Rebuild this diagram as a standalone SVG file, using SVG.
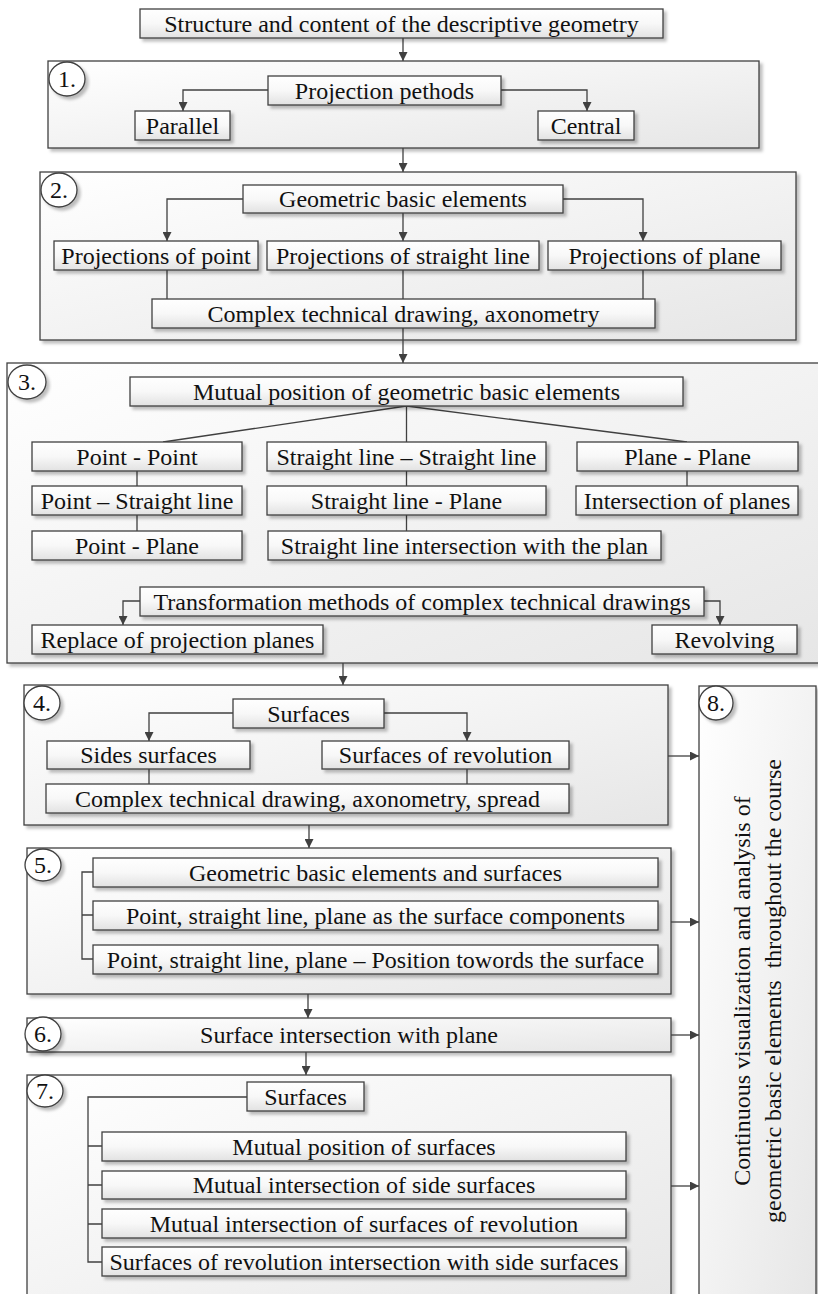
<svg xmlns="http://www.w3.org/2000/svg" width="818" height="1294" viewBox="0 0 818 1294" font-family="Liberation Serif, Times New Roman, serif">
<defs>
<style>
.c{fill:url(#gc);stroke:#404040;stroke-width:1.3;filter:url(#sh)}
.b{fill:url(#gb);stroke:#404040;stroke-width:1.3;filter:url(#sh)}
.n{fill:#fff;stroke:#404040;stroke-width:1.3;filter:url(#sh)}
.t{font-family:'Liberation Serif',serif;font-size:24px;fill:#111;text-anchor:middle}
.l{fill:none;stroke:#404040;stroke-width:1.3}
.a{marker-end:url(#ar)}
</style>
<linearGradient id="gc" x1="0" y1="0" x2="1" y2="1"><stop offset="0" stop-color="#ffffff"/><stop offset="1" stop-color="#e6e6e6"/></linearGradient>
<linearGradient id="gb" x1="0" y1="0" x2="0" y2="1"><stop offset="0" stop-color="#ffffff"/><stop offset="0.5" stop-color="#f8f8f8"/><stop offset="1" stop-color="#e2e2e2"/></linearGradient>
<filter id="sh" x="-10%" y="-10%" width="125%" height="140%"><feDropShadow dx="3" dy="3" stdDeviation="1.5" flood-color="#000" flood-opacity="0.25"/></filter>
<marker id="ar" viewBox="0 0 10 10" refX="10" refY="5" markerWidth="9" markerHeight="9" markerUnits="userSpaceOnUse" orient="auto"><path d="M0,0 L10,5 L0,10 z" fill="#404040"/></marker>
</defs>
<rect width="818" height="1294" fill="#fff"/>

<g id="containers">
<g id="c1"><rect class="c" x="48" y="61" width="711" height="87"/><ellipse class="n" cx="67" cy="79" rx="18" ry="17"/><text class="t" x="67" y="87">1.</text></g>
<g id="c2"><rect class="c" x="40" y="172" width="756" height="168"/><ellipse class="n" cx="59" cy="190" rx="18" ry="17"/><text class="t" x="59" y="198">2.</text></g>
<g id="c3"><rect class="c" x="7" y="363" width="815" height="300"/><ellipse class="n" cx="27" cy="382" rx="19" ry="17"/><text class="t" x="27" y="390">3.</text></g>
<g id="c4"><rect class="c" x="24" y="685" width="644" height="140"/><ellipse class="n" cx="42" cy="703" rx="18" ry="17"/><text class="t" x="42" y="711">4.</text></g>
<g id="c5"><rect class="c" x="27" y="848" width="644" height="146"/><ellipse class="n" cx="43" cy="865" rx="18" ry="16"/><text class="t" x="43" y="873">5.</text></g>
<g id="c6"><rect class="c" x="27" y="1018" width="644" height="34"/><ellipse class="n" cx="43" cy="1034" rx="18" ry="17"/><text class="t" x="43" y="1042">6.</text><text class="t" x="349" y="1043">Surface intersection with plane</text></g>
<g id="c7"><rect class="c" x="27" y="1075" width="644" height="240"/><ellipse class="n" cx="45" cy="1091" rx="18" ry="16"/><text class="t" x="45" y="1099">7.</text></g>
<g id="c8"><rect class="c" x="699" y="686" width="117" height="620"/><ellipse class="n" cx="716" cy="703" rx="17" ry="17"/><text class="t" x="716" y="711">8.</text>
<text class="t" transform="translate(750,991) rotate(-90)">Continuous visualization and analysis of</text>
<text class="t" xml:space="preserve" transform="translate(781,991) rotate(-90)">geometric basic elements  throughout the course</text></g>
</g>

<g id="connectors">
<path class="l a" d="M403,38 V61"/>
<path class="l a" d="M268,90 H183 V111"/>
<path class="l a" d="M501,90 H587 V111"/>
<path class="l a" d="M403,148 V172"/>
<path class="l a" d="M243,199 H167 V241"/>
<path class="l a" d="M403,213 V241"/>
<path class="l a" d="M563,199 H643 V241"/>
<path class="l" d="M167,270 V299 M403,270 V299 M643,270 V299"/>
<path class="l a" d="M403,328 V363"/>
<path class="l" d="M406.5,406 L163,442 M406.5,406 V442 M406.5,406 L687,442"/>
<path class="l" d="M137,471 V486 M137,515 V531 M406.5,471 V486 M406.5,515 V531 M687,471 V486"/>
<path class="l a" d="M140,601 H123 V625"/>
<path class="l a" d="M704,601 H720 V625"/>
<path class="l a" d="M343,663 V685"/>
<path class="l a" d="M233,713 H149 V741"/>
<path class="l a" d="M384,713 H467 V741"/>
<path class="l" d="M149,769 V784 M467,769 V784"/>
<path class="l a" d="M668,756 H699"/>
<path class="l a" d="M309,825 V848"/>
<path class="l" d="M93,872 H82 V959 H93 M82,915 H93"/>
<path class="l a" d="M671,922 H699"/>
<path class="l a" d="M308,994 V1018"/>
<path class="l a" d="M671,1035 H699"/>
<path class="l a" d="M306,1052 V1075"/>
<path class="l" d="M247,1097 H88 V1262 H102 M88,1146 H102 M88,1185 H102 M88,1224 H102"/>
<path class="l a" d="M671,1186 H699"/>
</g>

<g id="nodes">
<g id="top"><rect class="b" x="140" y="9" width="523" height="29"/><text class="t" x="401.5" y="31.5">Structure and content of the descriptive geometry</text></g>
<g id="pm"><rect class="b" x="268" y="76" width="233" height="29"/><text class="t" x="384.5" y="98.5">Projection pethods</text></g>
<g id="par"><rect class="b" x="135" y="111" width="95" height="29"/><text class="t" x="182.5" y="133.5">Parallel</text></g>
<g id="cen"><rect class="b" x="538" y="111" width="96" height="29"/><text class="t" x="586" y="133.5">Central</text></g>

<g id="gbe"><rect class="b" x="243" y="185" width="320" height="28"/><text class="t" x="403" y="207">Geometric basic elements</text></g>
<g id="pop"><rect class="b" x="54" y="241" width="204" height="29"/><text class="t" x="156" y="263.5">Projections of point</text></g>
<g id="posl"><rect class="b" x="267" y="241" width="272" height="29"/><text class="t" x="403" y="263.5">Projections of straight line</text></g>
<g id="popl"><rect class="b" x="548" y="241" width="233" height="29"/><text class="t" x="664.5" y="263.5">Projections of plane</text></g>
<g id="ctd"><rect class="b" x="152" y="299" width="503" height="29"/><text class="t" x="403.5" y="321.5">Complex technical drawing, axonometry</text></g>

<g id="mp"><rect class="b" x="130" y="377" width="553" height="29"/><text class="t" x="406.5" y="399.5">Mutual position of geometric basic elements</text></g>
<g id="pp"><rect class="b" x="32" y="442" width="210" height="29"/><text class="t" x="137" y="464.5">Point - Point</text></g>
<g id="psl"><rect class="b" x="32" y="486" width="210" height="29"/><text class="t" x="137" y="508.5">Point – Straight line</text></g>
<g id="ppl"><rect class="b" x="32" y="531" width="210" height="29"/><text class="t" x="137" y="553.5">Point - Plane</text></g>
<g id="slsl"><rect class="b" x="267" y="442" width="279" height="29"/><text class="t" x="406.5" y="464.5">Straight line – Straight line</text></g>
<g id="slp"><rect class="b" x="267" y="486" width="279" height="29"/><text class="t" x="406.5" y="508.5">Straight line - Plane</text></g>
<g id="sli"><rect class="b" x="268" y="531" width="393" height="29"/><text class="t" x="464.5" y="553.5">Straight line intersection with the plan</text></g>
<g id="plpl"><rect class="b" x="577" y="442" width="221" height="29"/><text class="t" x="687.5" y="464.5">Plane - Plane</text></g>
<g id="iop"><rect class="b" x="576" y="486" width="222" height="29"/><text class="t" x="687" y="508.5">Intersection of planes</text></g>
<g id="tm"><rect class="b" x="140" y="587" width="564" height="29"/><text class="t" x="422" y="609.5">Transformation methods of complex technical drawings</text></g>
<g id="rpp"><rect class="b" x="32" y="625" width="291" height="29"/><text class="t" x="177.5" y="647.5">Replace of projection planes</text></g>
<g id="rev"><rect class="b" x="652" y="625" width="145" height="29"/><text class="t" x="724.5" y="647.5">Revolving</text></g>

<g id="surf4"><rect class="b" x="233" y="699" width="151" height="29"/><text class="t" x="308.5" y="721.5">Surfaces</text></g>
<g id="ss"><rect class="b" x="47" y="741" width="203" height="28"/><text class="t" x="148.5" y="763">Sides surfaces</text></g>
<g id="sor"><rect class="b" x="322" y="741" width="247" height="28"/><text class="t" x="445.5" y="763">Surfaces of revolution</text></g>
<g id="ctd2"><rect class="b" x="46" y="784" width="523" height="29"/><text class="t" x="307.5" y="806.5">Complex technical drawing, axonometry, spread</text></g>

<g id="gbes"><rect class="b" x="93" y="858" width="565" height="29"/><text class="t" x="375.5" y="880.5">Geometric basic elements and surfaces</text></g>
<g id="psc"><rect class="b" x="93" y="901" width="565" height="29"/><text class="t" x="375.5" y="923.5">Point, straight line, plane as the surface components</text></g>
<g id="pst"><rect class="b" x="93" y="945" width="565" height="29"/><text class="t" x="375.5" y="967.5">Point, straight line, plane – Position towords the surface</text></g>

<g id="surf7"><rect class="b" x="247" y="1082" width="117" height="29"/><text class="t" x="305.5" y="1104.5">Surfaces</text></g>
<g id="mps"><rect class="b" x="102" y="1132" width="524" height="29"/><text class="t" x="364" y="1154.5">Mutual position of surfaces</text></g>
<g id="miss"><rect class="b" x="102" y="1171" width="524" height="28"/><text class="t" x="364" y="1193">Mutual intersection of side surfaces</text></g>
<g id="misr"><rect class="b" x="102" y="1209" width="524" height="29"/><text class="t" x="364" y="1231.5">Mutual intersection of surfaces of revolution</text></g>
<g id="sri"><rect class="b" x="102" y="1247" width="524" height="29"/><text class="t" x="364" y="1269.5">Surfaces of revolution intersection with side surfaces</text></g>
</g>
</svg>
